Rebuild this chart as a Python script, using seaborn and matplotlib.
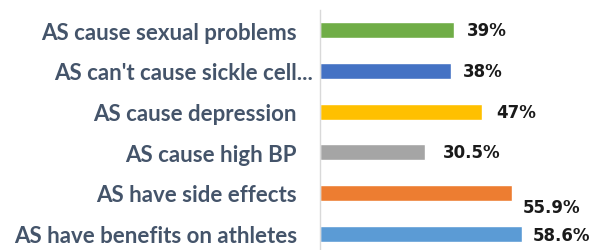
import matplotlib
matplotlib.use("Agg")
import matplotlib.pyplot as plt
import seaborn as sns
import pandas as pd

# data
categories = [
    "AS cause sexual problems",
    "AS can't cause sickle cell...",
    "AS cause depression",
    "AS cause high BP",
    "AS have side effects",
    "AS have benefits on athletes",
]
values = [39, 38, 47, 30.5, 55.9, 58.6]
value_labels = ["39%", "38%", "47%", "30.5%", "55.9%", "58.6%"]
bar_colors = ["#70AD47", "#4472C4", "#FFC000", "#A5A5A5", "#ED7D31", "#5B9BD5"]

# label nudges in pixels (dx, dy) - some labels were moved by hand in the original
label_offsets = [(13, 0), (12, 0), (14, 0), (18, 0), (10, -14), (11, -1)]

df = pd.DataFrame({"category": categories, "value": values})

sns.set_style("white")
plt.rcParams["font.family"] = ["Lato", "DejaVu Sans"]

fig = plt.figure(figsize=(5.92, 2.51), dpi=100)
ax_w = 241
ax = fig.add_axes([320 / 592, -4 / 251, ax_w / 592, 244 / 251])

sns.barplot(data=df, x="value", y="category", hue="category", palette=bar_colors,
            orient="h", width=0.4, legend=False, ax=ax, saturation=1)

ax.set_xlim(0, 70)
ax.set_xlabel("")
ax.set_ylabel("")
ax.set_xticks([])
for side in ["top", "right", "bottom"]:
    ax.spines[side].set_visible(False)
ax.spines["left"].set_color("#D9D9D9")
ax.spines["left"].set_linewidth(1)

ax.tick_params(axis="y", length=0, pad=16.5)
for i, lbl in enumerate(ax.get_yticklabels()):
    lbl.set_fontsize(16)
    lbl.set_fontweight("bold")
    lbl.set_color("#44546A")
    if lbl.get_text().endswith("..."):
        # truncated label sticks out further to the right in the original
        lbl.set_x(16 / ax_w)

# value labels
for i, (v, txt) in enumerate(zip(values, value_labels)):
    dx, dy = label_offsets[i]
    ax.annotate(txt, xy=(v, i), xytext=(dx * 0.72, dy * 0.72), textcoords="offset points",
                ha="left", va="center", fontsize=12, fontweight="bold",
                family="DejaVu Sans", color="#1A1A1A")

fig.savefig("out.png", dpi=100)
